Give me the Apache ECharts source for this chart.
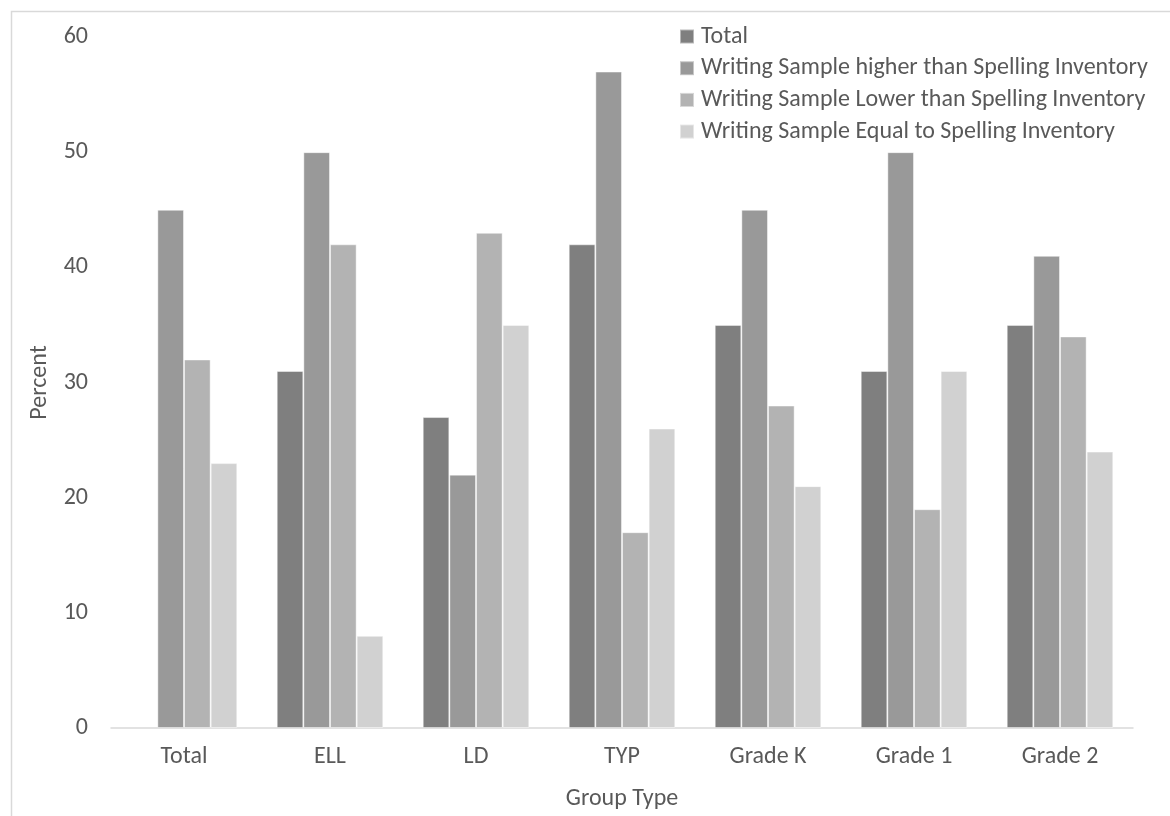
<!DOCTYPE html>
<html>
<head>
<meta charset="utf-8">
<title>Writing Sample vs Spelling Inventory by Group Type</title>
<script src="https://cdn.jsdelivr.net/npm/echarts@6/dist/echarts.min.js"></script>
<style>
  html, body { margin: 0; padding: 0; background: #ffffff; }
  #chart { width: 1170px; height: 816px; }
</style>
</head>
<body>
<div id="chart"></div>
<script>
// Group types along the x axis
const categories = ['Total', 'ELL', 'LD', 'TYP', 'Grade K', 'Grade 1', 'Grade 2'];

// Percent values per series (null = no bar drawn)
const totalValues  = [null, 31, 27, 42, 35, 31, 35];
const higherValues = [45, 50, 22, 57, 45, 50, 41];
const lowerValues  = [32, 42, 43, 17, 28, 19, 34];
const equalValues  = [23, 8, 35, 26, 21, 31, 24];

const seriesNames = [
  'Total',
  'Writing Sample higher than Spelling Inventory',
  'Writing Sample Lower than Spelling Inventory',
  'Writing Sample Equal to Spelling Inventory'
];

// Y axis ticks
const yMin = 0;
const yMax = 60;
const yStep = 10;

const FONT = "Carlito, Calibri, 'Liberation Sans', Arial, sans-serif";
const TEXT = '#595959';
const colors = ['#7f7f7f', '#999999', '#b3b3b3', '#d1d1d1'];
const seriesData = [totalValues, higherValues, lowerValues, equalValues];

const chart = echarts.init(document.getElementById('chart'), null, { renderer: 'canvas' });

chart.setOption({
  backgroundColor: '#ffffff',
  animation: false,
  textStyle: { fontFamily: FONT, color: TEXT },
  graphic: [{
    type: 'rect',
    shape: { x: 11.5, y: 11.5, width: 1300, height: 1000 },
    style: { fill: 'none', stroke: '#d9d9d9', lineWidth: 1.5 },
    silent: true,
    z: -10
  }],
  legend: {
    orient: 'vertical',
    left: 679,
    top: 24.5,
    padding: 0,
    itemWidth: 14,
    itemHeight: 14,
    itemGap: 7.7,
    icon: 'rect',
    textStyle: {
      fontFamily: FONT,
      fontSize: 24,
      lineHeight: 24,
      color: TEXT,
      padding: [0, 0, 0, 2]
    },
    data: seriesNames
  },
  grid: {
    left: 111,
    right: 1170 - 1133,
    top: 37,
    bottom: 816 - 728,
    containLabel: false
  },
  xAxis: {
    type: 'category',
    data: categories,
    name: 'Group Type',
    nameLocation: 'middle',
    nameGap: 59,
    nameTextStyle: { fontFamily: FONT, fontSize: 24, color: TEXT },
    axisLine: { show: true, lineStyle: { color: '#d9d9d9', width: 1.5 } },
    axisTick: { show: false },
    axisLabel: { fontFamily: FONT, fontSize: 24, color: TEXT, margin: 17 },
    splitLine: { show: false }
  },
  yAxis: {
    type: 'value',
    min: yMin,
    max: yMax,
    interval: yStep,
    name: 'Percent',
    nameLocation: 'middle',
    nameGap: 59,
    nameTextStyle: { fontFamily: FONT, fontSize: 24, color: TEXT },
    axisLine: { show: false },
    axisTick: { show: false },
    axisLabel: { fontFamily: FONT, fontSize: 24, color: TEXT, margin: 23 },
    splitLine: { show: false }
  },
  series: seriesNames.map((name, i) => ({
    name: name,
    type: 'bar',
    data: seriesData[i],
    barGap: '0%',
    barCategoryGap: '27%',
    itemStyle: {
      color: colors[i],
      borderColor: 'rgba(255,255,255,0.45)',
      borderWidth: 1
    }
  }))
});
</script>
</body>
</html>
